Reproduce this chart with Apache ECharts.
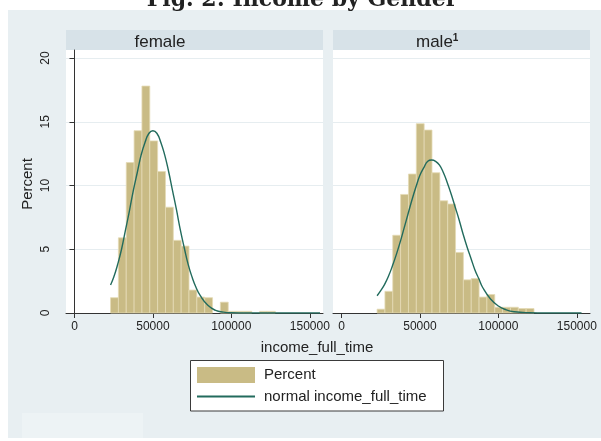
<!DOCTYPE html>
<html>
<head>
<meta charset="utf-8">
<script src="https://cdn.jsdelivr.net/npm/echarts@6/dist/echarts.min.js"></script>
<style>
  html, body { margin: 0; padding: 0; background: #ffffff; }
  #chart { width: 601px; height: 441px; }
</style>
</head>
<body>
<div id="chart"></div>
<script>
// Histogram bins (percent of each group), equal-width bins starting at the group minimum
const binWidth = 5000;
const femaleBinStart = 23000;
const maleBinStart = 22700;
const femalePercent = [1.2, 5.9, 11.8, 14.3, 17.8, 13.5, 11.1, 8.3, 5.7, 5.25, 1.8, 1.25, 1.2, 0, 0.85, 0.13, 0.13, 0.13, 0, 0.13, 0.13];
const malePercent = [0.3, 1.7, 6.1, 9.3, 10.9, 14.85, 14.35, 11.0, 8.8, 8.55, 4.75, 2.6, 2.7, 1.25, 1.45, 0.45, 0.45, 0.45, 0.35, 0.35];

// Fitted normal density overlay (in percent units)
const femaleCurveX = [23000, 25000, 27500, 30000, 32500, 35000, 37500, 40000, 42500, 45000, 47500, 50000, 52500, 55000, 57500, 60000, 62500, 65000, 67500, 70000, 72500, 75000, 77500, 80000, 85000, 90000, 95000, 100000, 110000, 120000, 140000, 156500];
const femaleCurveY = [2.2, 2.8, 3.8, 5.0, 6.5, 8.0, 9.6, 11.0, 12.4, 13.4, 14.1, 14.3, 14.1, 13.4, 12.4, 11.1, 9.6, 8.1, 6.5, 5.1, 3.8, 2.8, 2.0, 1.4, 0.6, 0.2, 0.07, 0.02, 0, 0, 0, 0];
const maleCurveX = [22700, 25000, 27500, 30000, 32500, 35000, 37500, 40000, 42500, 45000, 47500, 50000, 52500, 55000, 57500, 60000, 62500, 65000, 67500, 70000, 72500, 75000, 77500, 80000, 82500, 85000, 87500, 90000, 95000, 100000, 105000, 110000, 120000, 130000, 153000];
const maleCurveY = [1.35, 1.75, 2.25, 2.9, 3.7, 4.6, 5.6, 6.7, 7.8, 8.9, 9.9, 10.8, 11.4, 11.9, 12.0, 11.9, 11.6, 11.0, 10.2, 9.3, 8.3, 7.3, 6.2, 5.2, 4.3, 3.4, 2.7, 2.0, 1.1, 0.55, 0.25, 0.1, 0.02, 0, 0];

// Axis ticks
const xTicks = [0, 50000, 100000, 150000];
const yTicks = [0, 5, 10, 15, 20];
const panelNames = ['female', 'male'];

const FONT = '"Liberation Sans", Arial, Helvetica, sans-serif';
const BAR_FILL = '#c9bb85';
const BAR_EDGE = '#e4dbb5';
const CURVE = '#226b5d';
const AXIS = '#333333';
const GRID_LINE = '#e6edf0';

function bins(start, values) {
  return values.map((p, i) => [start + i * binWidth, start + (i + 1) * binWidth, p]);
}
function pairs(xs, ys) {
  return xs.map((x, i) => [x, ys[i]]);
}

function renderBin(params, api) {
  const h = api.value(2);
  if (!(h > 0)) return null;
  const p0 = api.coord([api.value(0), h]);
  const p1 = api.coord([api.value(1), 0]);
  return {
    type: 'rect',
    shape: { x: p0[0], y: p0[1], width: p1[0] - p0[0], height: p1[1] - p0[1] },
    style: { fill: BAR_FILL, stroke: BAR_EDGE, lineWidth: 0.8 }
  };
}

const grids = [
  { left: 66, top: 50, width: 257, height: 263 },
  { left: 333, top: 50, width: 257, height: 263 }
];

const xAxes = grids.map((g, i) => ({
  type: 'value', gridIndex: i, min: -5400, max: 158400,
  axisLine: { show: true, onZero: false, lineStyle: { color: AXIS, width: 1 } },
  axisTick: { show: true, length: 5, customValues: xTicks, lineStyle: { color: AXIS } },
  axisLabel: { customValues: xTicks, formatter: v => String(v), fontFamily: FONT, fontSize: 12, color: '#222', margin: 8 },
  splitLine: { show: false }
}));

const yAxes = grids.map((g, i) => ({
  type: 'value', gridIndex: i, min: 0, max: 20.63, interval: 5,
  axisLine: { show: i === 0, lineStyle: { color: AXIS, width: 1 } },
  axisTick: { show: i === 0, length: 5, customValues: yTicks, lineStyle: { color: AXIS } },
  axisLabel: { show: i === 0, customValues: yTicks, rotate: 90, fontFamily: FONT, fontSize: 12, color: '#222', margin: 14 },
  splitLine: { show: true, lineStyle: { color: GRID_LINE, width: 1 } }
}));

const curveStyle = { smooth: 0.5, symbol: 'none', lineStyle: { color: CURVE, width: 1.4 }, itemStyle: { color: CURVE }, z: 3 };

const series = [
  { type: 'custom', name: 'Percent', xAxisIndex: 0, yAxisIndex: 0, data: bins(femaleBinStart, femalePercent),
    encode: { x: [0, 1], y: 2 }, renderItem: renderBin, itemStyle: { color: BAR_FILL } },
  Object.assign({ type: 'line', name: 'normal income_full_time', xAxisIndex: 0, yAxisIndex: 0,
    data: pairs(femaleCurveX, femaleCurveY) }, curveStyle),
  { type: 'custom', name: 'Percent', xAxisIndex: 1, yAxisIndex: 1, data: bins(maleBinStart, malePercent),
    encode: { x: [0, 1], y: 2 }, renderItem: renderBin, itemStyle: { color: BAR_FILL } },
  Object.assign({ type: 'line', name: 'normal income_full_time', xAxisIndex: 1, yAxisIndex: 1,
    data: pairs(maleCurveX, maleCurveY) }, curveStyle)
];

const graphic = [
  // outer plot region and a faint note box at the bottom left
  { type: 'rect', z: -100, shape: { x: 8, y: 10, width: 593, height: 428 }, style: { fill: '#e8eff2' } },
  { type: 'rect', z: -99, shape: { x: 22, y: 413, width: 121, height: 25 }, style: { fill: '#edf3f5' } },
  // panel plot areas
  { type: 'rect', z: -90, shape: { x: 66, y: 50, width: 257, height: 263 }, style: { fill: '#ffffff' } },
  { type: 'rect', z: -90, shape: { x: 333, y: 50, width: 257, height: 263 }, style: { fill: '#ffffff' } },
  // panel header strips
  { type: 'rect', z: -90, shape: { x: 66, y: 30, width: 257, height: 20 }, style: { fill: '#d7e2e8' } },
  { type: 'rect', z: -90, shape: { x: 333, y: 30, width: 257, height: 20 }, style: { fill: '#d7e2e8' } },
  { type: 'text', z: 5, x: 160, y: 42,
    style: { text: panelNames[0], font: '17px ' + FONT, fill: '#222', textAlign: 'center', textVerticalAlign: 'middle' } },
  { type: 'text', z: 5, x: 416, y: 42,
    style: { text: '{a|' + panelNames[1] + '}{b|1}', textAlign: 'left', textVerticalAlign: 'middle',
      rich: { a: { fontFamily: FONT, fontSize: 17, fill: '#222' }, b: { fontFamily: FONT, fontSize: 10, fontWeight: 'bold', fill: '#222', verticalAlign: 'top' } } } },
  // title
  { type: 'text', z: 5, x: 302, y: 0,
    style: { text: 'Fig. 2: Income by Gender', font: 'bold 22px "DejaVu Serif", serif', fill: '#222', textAlign: 'center', textVerticalAlign: 'middle' } },
  // axis titles
  { type: 'text', z: 5, x: 317, y: 348,
    style: { text: 'income_full_time', font: '15px ' + FONT, fill: '#222', textAlign: 'center', textVerticalAlign: 'middle' } },
  { type: 'text', z: 5, x: 28, y: 184, rotation: Math.PI / 2,
    style: { text: 'Percent', font: '15px ' + FONT, fill: '#222', textAlign: 'center', textVerticalAlign: 'middle' } },
  // legend frame
  { type: 'rect', z: 3, shape: { x: 190.5, y: 360.5, width: 253, height: 50.5 }, style: { fill: '#ffffff', stroke: '#3a3a3a', lineWidth: 1 } }
];

const chart = echarts.init(document.getElementById('chart'), null, { renderer: 'canvas' });
chart.setOption({
  animation: false,
  backgroundColor: '#ffffff',
  grid: grids,
  xAxis: xAxes,
  yAxis: yAxes,
  legend: {
    orient: 'vertical', left: 196, top: 367, padding: 0,
    itemWidth: 58, itemHeight: 16, itemGap: 6, selectedMode: false, z: 6,
    textStyle: { fontFamily: FONT, fontSize: 15, color: '#222', padding: [0, 0, 0, 4] },
    data: [
      { name: 'Percent', icon: 'rect' },
      { name: 'normal income_full_time', itemStyle: { color: 'rgba(0,0,0,0)', borderColor: 'rgba(0,0,0,0)', borderWidth: 0 } }
    ]
  },
  graphic: graphic,
  series: series
});
</script>
</body>
</html>
